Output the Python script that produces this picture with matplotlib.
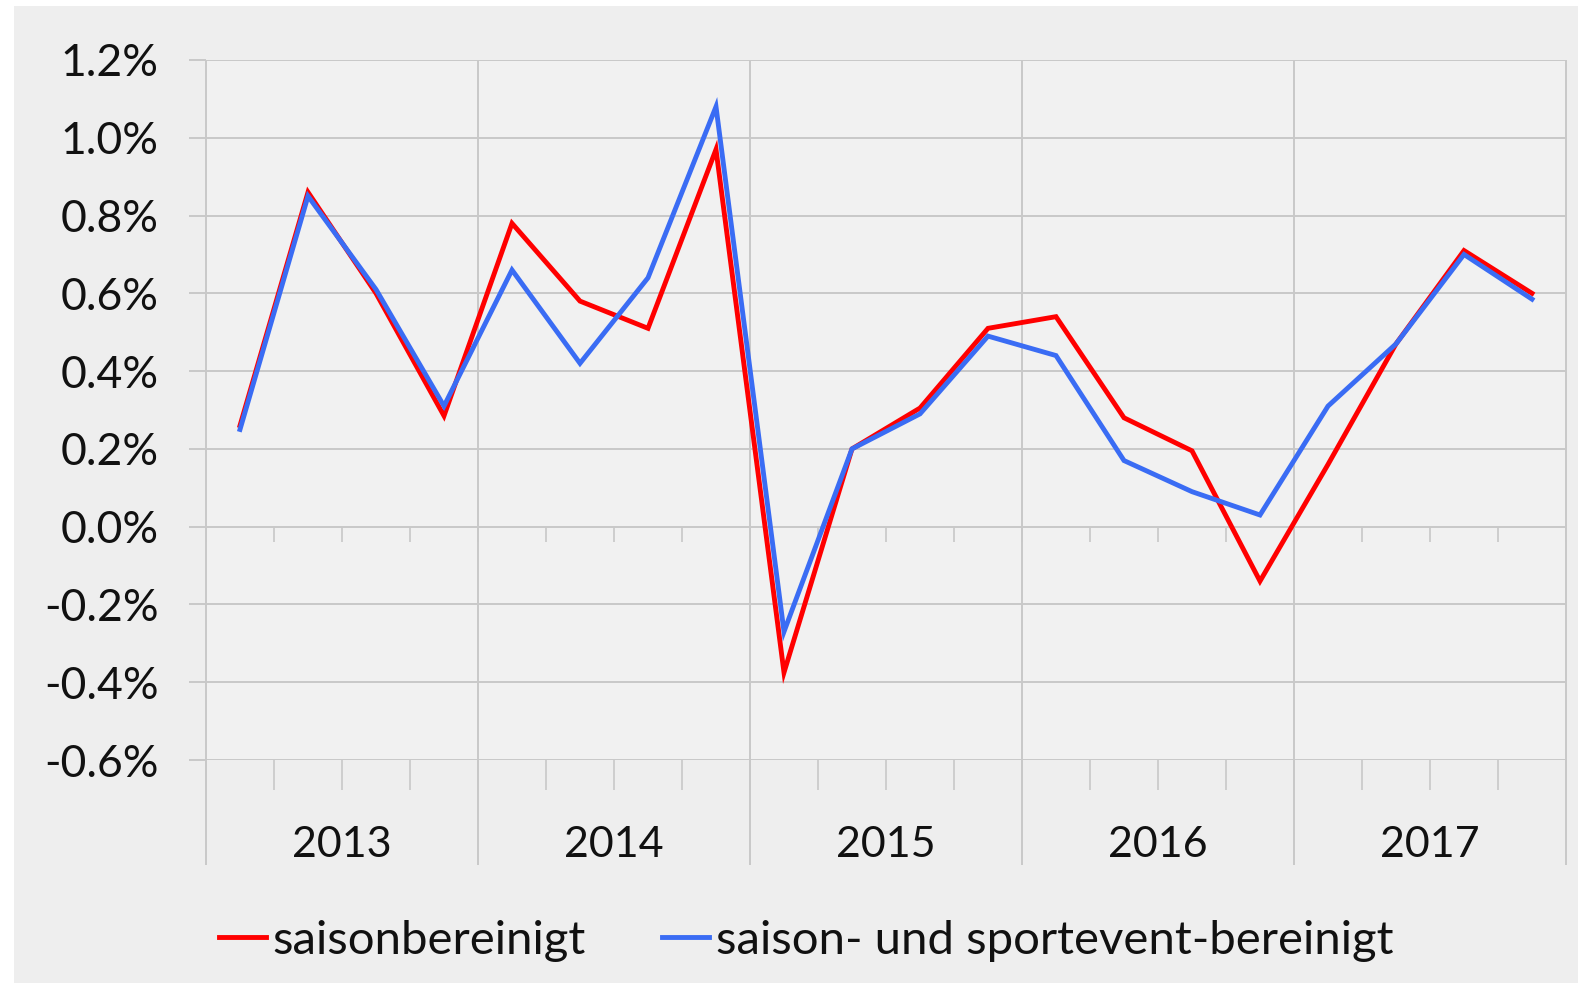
#!/usr/bin/env python3
"""Quarterly growth, seasonally adjusted vs. seasonally and sport-event adjusted."""

import matplotlib

matplotlib.use("Agg")
import matplotlib.pyplot as plt
from matplotlib.lines import Line2D
from matplotlib.patches import Rectangle
from matplotlib.ticker import FuncFormatter

years = ["2013", "2014", "2015", "2016", "2017"]
quarters = list(range(1, 21))
saisonbereinigt = [0.26, 0.86, 0.60, 0.285, 0.78, 0.58, 0.51, 0.97,
                   -0.375, 0.20, 0.305, 0.51, 0.54, 0.28, 0.195, -0.14,
                   0.16, 0.47, 0.71, 0.60]
sportevent_bereinigt = [0.25, 0.85, 0.61, 0.31, 0.66, 0.42, 0.64, 1.08,
                        -0.27, 0.20, 0.29, 0.49, 0.44, 0.17, 0.09, 0.03,
                        0.31, 0.47, 0.70, 0.585]
y_ticks = [-0.6, -0.4, -0.2, 0.0, 0.2, 0.4, 0.6, 0.8, 1.0, 1.2]

W, H = 1578, 983
GRID = "#c8c8c8"
RED = "#ff0000"
BLUE = "#3a6cf4"
TEXT = "#111111"
FONT = {"family": "Lato", "weight": "normal"}

fig = plt.figure(figsize=(W / 100, H / 100), dpi=100, facecolor="white")
fig.patches.append(Rectangle((14 / W, 0), 1 - 14 / W, 1 - 6 / H,
                             transform=fig.transFigure, facecolor="#eeeeee",
                             edgecolor="none", zorder=-10))

ax = fig.add_axes([206 / W, 1 - 760 / H, 1360 / W, 700 / H])
ax.set_facecolor("#f1f1f1")
for spine in ax.spines.values():
    spine.set_visible(False)

ax.plot(quarters, saisonbereinigt, color=RED, linewidth=3.5, solid_joinstyle="miter", zorder=3)
ax.plot(quarters, sportevent_bereinigt, color=BLUE, linewidth=3.5, solid_joinstyle="miter", zorder=4)

ax.set_xlim(0.5, 20.5)
ax.set_ylim(-0.6, 1.2)
ax.set_yticks(y_ticks)
ax.yaxis.set_major_formatter(FuncFormatter(lambda v, _: f"{v:.1f}%"))
ax.grid(True, axis="y", color=GRID, linewidth=1.4, zorder=1)

# quarter ticks at the bottom, no labels
ax.set_xticks([q + 0.5 for q in range(0, 21)])
ax.set_xticklabels([])
ax.tick_params(axis="x", length=21.5, width=1.2, color=GRID, direction="out")
ax.tick_params(axis="y", length=12, width=1.4, color=GRID, pad=22,
               labelsize=32, labelcolor=TEXT)
for lab in ax.get_yticklabels():
    lab.set_fontfamily(FONT["family"])
    lab.set_fontweight(FONT["weight"])

# quarter ticks on the zero line
zero_tick = 15 / 700 * 1.8
ax.vlines([q + 0.5 for q in range(0, 21)], -zero_tick, 0, color=GRID, linewidth=1.2, zorder=1)

# year separators, from plot top down below the axis
bounds = [0.5, 4.5, 8.5, 12.5, 16.5, 20.5]
ax.vlines(bounds, -0.15, 1, transform=ax.get_xaxis_transform(), color=GRID,
          linewidth=1.4, clip_on=False, zorder=1)

for i, year in enumerate(years):
    ax.text(2.5 + 4 * i, -0.122, year, transform=ax.get_xaxis_transform(),
            ha="center", va="center", fontsize=31, color=TEXT, **FONT)

handles = [
    Line2D([], [], color=RED, linewidth=3.5),
    Line2D([], [], color=BLUE, linewidth=3.5),
]
fig.legend(handles, ["saisonbereinigt", "saison- und sportevent-bereinigt"],
           loc="center", bbox_to_anchor=(806 / W, 1 - 941 / H), ncol=2,
           frameon=False, handlelength=1.0, handletextpad=0.15, columnspacing=1.6,
           labelcolor=TEXT,
           prop={"family": FONT["family"], "weight": FONT["weight"], "size": 34})

fig.savefig("out.png", dpi=100, facecolor="white")
